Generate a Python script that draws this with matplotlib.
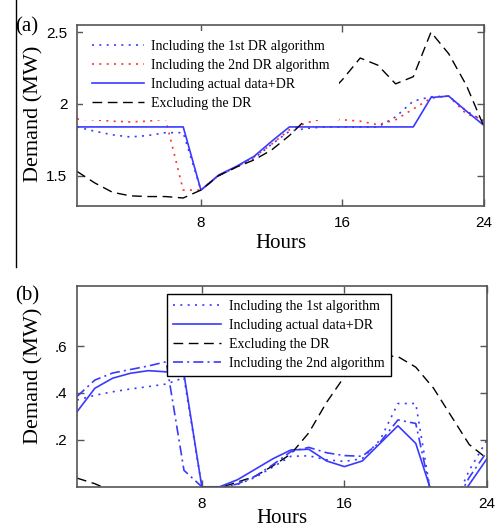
import numpy as np
import matplotlib
matplotlib.use("Agg")
import matplotlib.pyplot as plt
from matplotlib.lines import Line2D

hours = np.arange(1, 25)

# panel (a)
a_dr1 = [1.84, 1.81, 1.785, 1.77, 1.78, 1.80, 1.80, 1.40, 1.50, 1.56, 1.62, 1.72,
         1.81, 1.83, 1.84, 1.84, 1.84, 1.84, 1.91, 2.02, 2.05, 2.055, 1.95, 1.88]
a_dr2 = [1.895, 1.89, 1.88, 1.875, 1.88, 1.895, 1.40, 1.40, 1.50, 1.56, 1.63, 1.72,
         1.82, 1.87, 1.90, 1.89, 1.88, 1.855, 1.89, 1.965, 2.04, 2.055, 1.93, 1.89]
a_actual = [1.84, 1.84, 1.84, 1.84, 1.84, 1.84, 1.84, 1.40, 1.505, 1.565, 1.635, 1.74,
            1.84, 1.84, 1.84, 1.84, 1.84, 1.84, 1.84, 1.84, 2.045, 2.055, 1.95, 1.85]
a_nodr = [1.53, 1.45, 1.385, 1.36, 1.355, 1.355, 1.345, 1.40, 1.50, 1.56, 1.61, 1.68,
          1.78, 1.90, 2.04, 2.17, 2.32, 2.27, 2.14, 2.19, 2.50, 2.35, 2.13, 1.84]
a_labels = ["Including the 1st DR algorithm", "Including the 2nd DR algorithm",
            "Including actual data+DR", "Excluding the DR"]

# panel (b)
b_alg1 = [0.37, 0.39, 0.405, 0.417, 0.427, 0.438, 0.465, 0.0, -0.005, 0.01, 0.04, 0.085,
          0.13, 0.132, 0.115, 0.108, 0.12, 0.20, 0.355, 0.355, -0.1, -0.1, 0.07, 0.20]
b_actual = [0.32, 0.42, 0.463, 0.484, 0.495, 0.49, 0.48, 0.0, 0.0, 0.03, 0.075, 0.12,
            0.157, 0.16, 0.11, 0.086, 0.11, 0.185, 0.26, 0.185, -0.05, -0.1, 0.01, 0.12]
b_nodr = [0.037, 0.013, -0.02, -0.04, -0.05, -0.05, -0.05, -0.03, -0.005, 0.02, 0.045, 0.09,
          0.14, 0.23, 0.36, 0.47, 0.53, 0.56, 0.555, 0.51, 0.42, 0.30, 0.18, 0.12]
b_alg2 = [0.385, 0.455, 0.485, 0.50, 0.515, 0.533, 0.07, 0.0, -0.005, 0.012, 0.045, 0.095,
          0.15, 0.168, 0.145, 0.133, 0.13, 0.19, 0.285, 0.27, -0.08, -0.1, 0.04, 0.15]
b_labels = ["Including the 1st algorithm", "Including actual data+DR",
            "Excluding the DR", "Including the 2nd algorithm"]

xticks = [8, 16, 24]
a_yticks = [1.5, 2, 2.5]
a_yticklabels = ["1.5", "2", "2.5"]
b_yticks = [0.2, 0.4, 0.6]
b_yticklabels = [".2", ".4", ".6"]

blue = "#3a3aff"
red = "#ff3030"
serif = "Liberation Serif"
sans = "Liberation Sans"

fig = plt.figure(figsize=(4.97, 5.32), dpi=100)
ax1 = fig.add_axes([0.155, 0.613, 0.819, 0.340])
ax2 = fig.add_axes([0.155, 0.085, 0.825, 0.377])


def style(ax, label_y, xpad):
    for s in ax.spines.values():
        s.set_color("#555555")
        s.set_linewidth(1.2)
    ax.tick_params(direction="in", length=5, width=1, color="#555555",
                   top=True, right=True, labelsize=11, pad=7)
    ax.set_xticks(xticks)
    ax.set_xlim(1, 24)
    for lab in ax.get_xticklabels() + ax.get_yticklabels():
        lab.set_family(sans)
    ax.set_xlabel("Hours", family=serif, fontsize=15, labelpad=xpad)
    ax.set_ylabel("Demand (MW)", family=serif, fontsize=16)
    ax.yaxis.set_label_coords(-0.083, label_y)


# (a)
ax1.plot(hours, a_dr1, color=blue, lw=1.2, dashes=(1.2, 3.2), label=a_labels[0])
ax1.plot(hours, a_dr2, color=red, lw=1.2, dashes=(1.2, 3.2), label=a_labels[1])
ax1.plot(hours, a_actual, color=blue, lw=1.2, label=a_labels[2])
ax1.plot(hours, a_nodr, color="black", lw=1, dashes=(7, 4), label=a_labels[3])
ax1.set_ylim(1.29, 2.55)
ax1.set_yticks(a_yticks)
ax1.set_yticklabels(a_yticklabels)
style(ax1, 0.51, 3)
leg1 = ax1.legend(loc="upper left", bbox_to_anchor=(0.0, 1.0), frameon=True,
                  facecolor="white", edgecolor="none", framealpha=1, fancybox=False,
                  prop={"family": serif, "size": 10}, handlelength=3.7,
                  handletextpad=0.5, labelspacing=0.42, borderpad=0.7,
                  borderaxespad=0.4)

# (b)
ax2.plot(hours, b_alg1, color=blue, lw=1.2, dashes=(1.2, 3.2), label=b_labels[0])
ax2.plot(hours, b_actual, color=blue, lw=1.2, label=b_labels[1])
ax2.plot(hours, b_nodr, color="black", lw=1, dashes=(7, 4), label=b_labels[2])
ax2.plot(hours, b_alg2, color=blue, lw=1.2, dashes=(6, 2.5, 1.2, 2.5), label=b_labels[3])
ax2.set_ylim(0, 0.855)
ax2.set_yticks(b_yticks)
ax2.set_yticklabels(b_yticklabels)
style(ax2, 0.555, -1)
leg2 = ax2.legend(loc="upper left", bbox_to_anchor=(0.22, 0.962), frameon=True,
                  facecolor="white", edgecolor="black", framealpha=1, fancybox=False,
                  prop={"family": serif, "size": 10}, handlelength=3.4,
                  handletextpad=0.6, labelspacing=0.42, borderpad=0.45,
                  borderaxespad=0)
leg2.get_frame().set_linewidth(1)

fig.text(15 / 497, 1 - 27 / 532, "(a)", family=serif, fontsize=15, va="center")
fig.text(15 / 497, 1 - 296 / 532, "(b)", family=serif, fontsize=15, va="center")
fig.add_artist(Line2D([16 / 497, 16 / 497], [1, 1 - 267 / 532], color="black", lw=1))

fig.savefig("out.png", dpi=100)
